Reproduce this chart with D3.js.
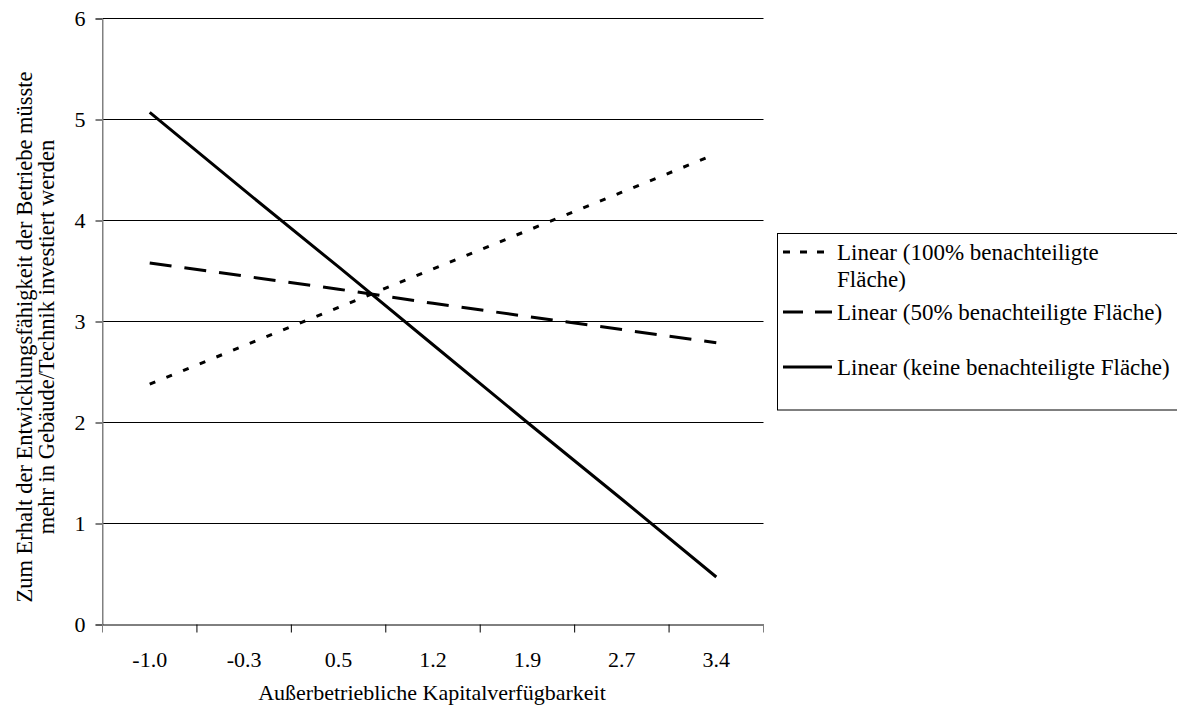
<!DOCTYPE html>
<html><head><meta charset="utf-8">
<script src="https://cdn.jsdelivr.net/npm/d3@7"></script>
<style>body{margin:0;background:#fff}svg{display:block}text{font-family:"Liberation Serif","Times New Roman",serif;fill:#000}</style>
</head><body><svg id="c" width="1177" height="711"></svg>
<script>
const categories = ["-1.0","-0.3","0.5","1.2","1.9","2.7","3.4"];
const yTicks = [0,1,2,3,4,5,6];
const seriesNames = ["Linear (100% benachteiligte Fläche)","Linear (50% benachteiligte Fläche)","Linear (keine benachteiligte Fläche)"];
const values100 = [2.38, 2.76, 3.14, 3.52, 3.90, 4.28, 4.66];
const values50  = [3.58, 3.45, 3.32, 3.18, 3.05, 2.92, 2.79];
const valuesKeine = [5.07, 4.30, 3.54, 2.77, 2.00, 1.24, 0.47];
const xTitle = "Außerbetriebliche Kapitalverfügbarkeit";
const yTitle = ["Zum Erhalt der Entwicklungsfähigkeit der Betriebe müsste","mehr in Gebäude/Technik investiert werden"];

const series = [
  {name: seriesNames[0], values: values100, dash: "6,12", legendLines: ["Linear (100% benachteiligte","Fläche)"]},
  {name: seriesNames[1], values: values50, dash: "22,13", legendLines: [seriesNames[1]]},
  {name: seriesNames[2], values: valuesKeine, dash: null, legendLines: [seriesNames[2]]}
];

const FS = "22px";
const svg = d3.select("#c");
const L = 102.5, R = 763.5, T = 18.5, B = 624.5;
const x = d3.scaleBand().domain(categories).range([L, R]);
const y = d3.scaleLinear().domain([0, 6]).range([B, T]);

// gridlines
svg.append("g").selectAll("line").data(yTicks.filter(d => d > 0)).join("line")
  .attr("x1", L).attr("x2", R).attr("y1", d => y(d)).attr("y2", d => y(d))
  .attr("stroke", "#000").attr("stroke-width", 1);

// y axis
const ya = svg.append("g").attr("transform", `translate(${L},0)`)
  .call(d3.axisLeft(y).tickValues(yTicks).tickSize(7).tickPadding(10).tickFormat(d3.format("d")));
ya.select(".domain").attr("stroke", "#808080");
ya.selectAll(".tick line").attr("stroke", "#000");
ya.selectAll("text").style("font-size", FS).style("font-family", "Liberation Serif").attr("dy", "0.34em");

// x axis
const xa = svg.append("g").attr("transform", `translate(0,${B})`)
  .call(d3.axisBottom(x).tickSize(0));
xa.select(".domain").attr("stroke", "#000");
xa.selectAll("text").style("font-size", FS).style("font-family", "Liberation Serif").attr("dy", null).attr("y", 42.5);
const bounds = categories.map(c => x(c)).concat([x(categories[categories.length-1]) + x.bandwidth()]);
svg.append("g").selectAll("line").data(bounds).join("line")
  .attr("x1", d => d).attr("x2", d => d).attr("y1", B).attr("y2", B + 8)
  .attr("stroke", (d, i) => (i === 0 || i === bounds.length - 1) ? "#808080" : "#000");
svg.append("line").attr("x1", L).attr("x2", L).attr("y1", T).attr("y2", B).attr("stroke", "#808080");

// series lines
const line = d3.line().x((d, i) => x(categories[i]) + x.bandwidth() / 2).y(d => y(d));
svg.append("g").selectAll("path").data(series).join("path")
  .attr("d", d => line(d.values)).attr("fill", "none").attr("stroke", "#000")
  .attr("stroke-width", 3).attr("stroke-dasharray", d => d.dash);

// axis titles
svg.append("text").attr("x", (L + R) / 2 - 1).attr("y", 700).attr("text-anchor", "middle")
  .style("font-size", FS).text(xTitle);
const yt = svg.append("text").attr("transform", `translate(0,337) rotate(-90)`).attr("text-anchor", "middle")
  .style("font-size", "22.5px");
yt.selectAll("tspan").data(yTitle).join("tspan").attr("x", 0).attr("y", (d, i) => 32 + i * 22).text(d => d);

// legend
const lg = svg.append("g");
lg.append("rect").attr("x", 777.5).attr("y", 233.5).attr("width", 410).attr("height", 176.5)
  .attr("fill", "#fff").attr("stroke", "#000").attr("stroke-width", 1);
const legendY = [252, 312, 367];
const items = lg.selectAll("g.item").data(series).join("g").attr("class", "item")
  .attr("transform", (d, i) => `translate(0,${legendY[i]})`);
items.append("line").attr("x1", 783).attr("x2", 832).attr("y1", 0).attr("y2", 0)
  .attr("stroke", "#000").attr("stroke-width", 3).attr("stroke-dasharray", (d, i) => i === 0 ? "7,10" : (i === 1 ? "20,12" : null));
items.each(function(d) {
  const t = d3.select(this).append("text").attr("x", 837).attr("y", 8).style("font-size", "23px");
  t.selectAll("tspan").data(d.legendLines).join("tspan").attr("x", 837).attr("dy", (e, j) => j === 0 ? 0 : 27).text(e => e);
});
</script></body></html>
